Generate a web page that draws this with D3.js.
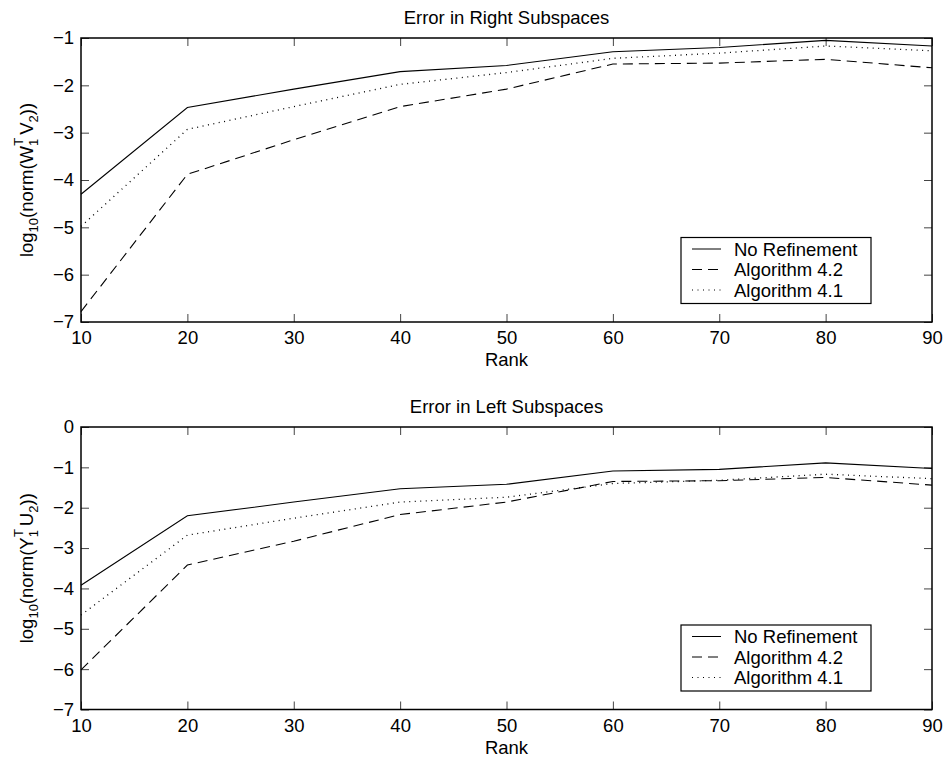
<!DOCTYPE html>
<html>
<head>
<meta charset="utf-8">
<script src="https://cdn.jsdelivr.net/npm/d3@7"></script>
<style>
  body { margin: 0; background: #fff; }
  svg { display: block; font-family: "Liberation Sans", Arial, sans-serif; }
</style>
</head>
<body>
<svg id="chart" width="945" height="762"></svg>
<script>
// data
var ranks = [10, 20, 30, 40, 50, 60, 70, 80, 90]
var rightNoRef = [-4.30, -2.47, -2.08, -1.71, -1.58, -1.29, -1.20, -1.05, -1.17]
var rightAlg42 = [-6.78, -3.88, -3.15, -2.45, -2.08, -1.55, -1.53, -1.45, -1.63]
var rightAlg41 = [-4.98, -2.93, -2.45, -1.98, -1.73, -1.43, -1.32, -1.17, -1.27]
var leftNoRef = [-3.92, -2.20, -1.86, -1.53, -1.42, -1.09, -1.05, -0.89, -1.03]
var leftAlg42 = [-6.02, -3.42, -2.83, -2.17, -1.86, -1.35, -1.33, -1.25, -1.44]
var leftAlg41 = [-4.66, -2.68, -2.26, -1.86, -1.74, -1.40, -1.32, -1.17, -1.28]
var xTicks = [10, 20, 30, 40, 50, 60, 70, 80, 90]
var rightYTicks = [-7, -6, -5, -4, -3, -2, -1]
var leftYTicks = [-7, -6, -5, -4, -3, -2, -1, 0]
var legendNames = ['No Refinement', 'Algorithm 4.2', 'Algorithm 4.1']

var svg = d3.select('#chart')
var dashes = [null, '10,6', '1,4.5']
var fs = 18.5

function minus (v) { return v < 0 ? '\u2212' + Math.abs(v) : String(v) }

function panel (opt) {
  var left = 81, right = 932
  var top = opt.top, bottom = opt.bottom
  var x = d3.scaleLinear().domain([10, 90]).range([left, right])
  var y = d3.scaleLinear().domain(opt.yDomain).range([bottom, top])
  var g = svg.append('g')

  // ticks on all four sides, pointing inward
  g.append('g').attr('transform', 'translate(0,' + bottom + ')')
    .call(d3.axisBottom(x).tickValues(xTicks).tickSizeInner(-8).tickSizeOuter(0).tickPadding(9).tickFormat(d3.format('d')))
  g.append('g').attr('transform', 'translate(0,' + top + ')')
    .call(d3.axisTop(x).tickValues(xTicks).tickSizeInner(-8).tickSizeOuter(0).tickFormat(''))
  g.append('g').attr('transform', 'translate(' + left + ',0)')
    .call(d3.axisLeft(y).tickValues(opt.yTicks).tickSizeInner(-8).tickSizeOuter(0).tickPadding(7).tickFormat(minus))
  g.append('g').attr('transform', 'translate(' + right + ',0)')
    .call(d3.axisRight(y).tickValues(opt.yTicks).tickSizeInner(-8).tickSizeOuter(0).tickFormat(''))
  g.selectAll('.domain').remove()
  g.selectAll('.tick line').attr('stroke', '#444').attr('stroke-width', 1)
  g.selectAll('.tick text').attr('font-size', fs).attr('fill', '#000')
    .attr('font-family', '"Liberation Sans", Arial, sans-serif')

  var line = d3.line().x(function (d, i) { return x(ranks[i]) }).y(function (d) { return y(d) })
  opt.series.forEach(function (s, k) {
    g.append('path').datum(s)
      .attr('fill', 'none').attr('stroke', '#000').attr('stroke-width', k === 2 ? 1.3 : 1.1)
      .attr('stroke-dasharray', dashes[k])
      .attr('d', line)
  })

  // frame
  g.append('rect').attr('x', left).attr('y', top).attr('width', right - left).attr('height', bottom - top)
    .attr('fill', 'none').attr('stroke', '#000').attr('stroke-width', 1.5)

  // title and x label
  g.append('text').attr('x', (left + right) / 2).attr('y', top - 14).attr('text-anchor', 'middle')
    .attr('font-size', fs).text(opt.title)
  g.append('text').attr('x', (left + right) / 2).attr('y', bottom + 44).attr('text-anchor', 'middle')
    .attr('font-size', fs).text('Rank')

  // y label with stacked sub/superscripts
  var cy = (top + bottom) / 2
  var yl = g.append('text').attr('transform', 'translate(33,' + cy + ') rotate(-90)')
    .attr('text-anchor', 'middle').attr('font-size', fs)
  yl.append('tspan').text('log')
  yl.append('tspan').attr('font-size', 13).attr('dy', 5).text('10')
  yl.append('tspan').attr('dy', -5).text('(norm(' + opt.m1)
  yl.append('tspan').attr('font-size', 13).attr('dy', 5).text('1')
  yl.append('tspan').attr('font-size', 13).attr('dx', -7).attr('dy', -15).text('T')
  yl.append('tspan').attr('dy', 10).attr('dx', 3).text(opt.m2)
  yl.append('tspan').attr('font-size', 13).attr('dy', 5).text('2')
  yl.append('tspan').attr('dy', -5).text('))')

  // legend
  var lx = 681, lw = 190, lh = 66, ly = bottom - 18.5 - lh
  var lg = g.append('g').attr('transform', 'translate(' + lx + ',' + ly + ')')
  lg.append('rect').attr('width', lw).attr('height', lh).attr('fill', '#fff')
    .attr('stroke', '#000').attr('stroke-width', 1.2)
  legendNames.forEach(function (name, k) {
    var ry = 11.5 + k * 20.5
    lg.append('line').attr('x1', 11).attr('x2', 40).attr('y1', ry).attr('y2', ry)
      .attr('stroke', '#000').attr('stroke-width', 1).attr('stroke-dasharray', dashes[k])
    lg.append('text').attr('x', 53).attr('y', ry + 6.5).attr('font-size', fs).text(name)
  })
}

panel({ top: 38, bottom: 322, yDomain: [-7, -1], yTicks: rightYTicks,
  title: 'Error in Right Subspaces', m1: 'W', m2: 'V',
  series: [rightNoRef, rightAlg42, rightAlg41] })
panel({ top: 427, bottom: 709.5, yDomain: [-7, 0], yTicks: leftYTicks,
  title: 'Error in Left Subspaces', m1: 'Y', m2: 'U',
  series: [leftNoRef, leftAlg42, leftAlg41] })
</script>
</body>
</html>
